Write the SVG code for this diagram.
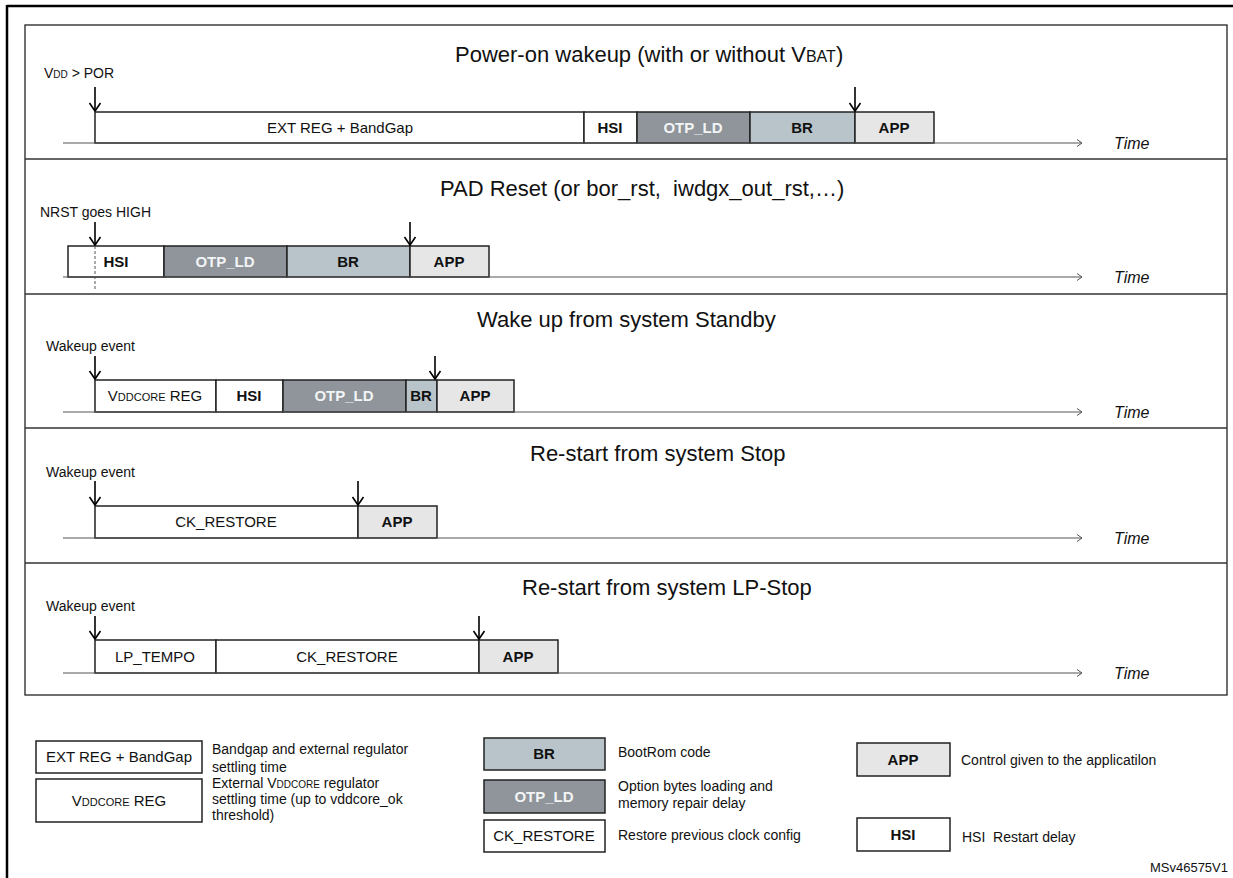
<svg xmlns="http://www.w3.org/2000/svg" width="1233" height="878" viewBox="0 0 1233 878">
<style>
text{font-family:"Liberation Sans",Arial,sans-serif;fill:#111}
.title{font-size:22px}
.lbl{font-size:14px}
.bt{font-size:15px;text-anchor:middle}
.bb{font-size:15px;font-weight:bold;text-anchor:middle}
.bw{font-size:15px;font-weight:bold;text-anchor:middle;fill:#f2f4f5}
.time{font-size:16px;font-style:italic}
.leg{font-size:14px}
.box{stroke:#222;stroke-width:1.5}
.w{fill:#fff}
.otp{fill:#8f959a}
.br{fill:#b9c4ca}
.app{fill:#e6e6e6}
.axis{stroke:#555;stroke-width:1;fill:none}
.ev{stroke:#000;stroke-width:1.6;fill:none}
.sep{stroke:#333;stroke-width:1.5}
</style>
<defs>
<marker id="ah" viewBox="-10 -7 12 14" refX="0" refY="0" markerWidth="12" markerHeight="14" markerUnits="userSpaceOnUse" orient="auto">
<path d="M-8,-5.5 L0,0 L-8,5.5" fill="none" stroke="#000" stroke-width="1.6"/>
</marker>
<marker id="ax" viewBox="-7 -5 9 10" refX="0" refY="0" markerWidth="9" markerHeight="10" markerUnits="userSpaceOnUse" orient="auto">
<path d="M-5,-3.5 L0,0 L-5,3.5" fill="none" stroke="#555" stroke-width="1"/>
</marker>
</defs>
<rect width="1233" height="878" fill="#fff"/>
<g id="frame">
<line x1="7" y1="6" x2="1233" y2="6" stroke="#000" stroke-width="2.5"/>
<line x1="7" y1="5" x2="7" y2="878" stroke="#000" stroke-width="2.5"/>
<rect x="25" y="25" width="1202" height="670" fill="none" stroke="#222" stroke-width="1.3"/>
<line class="sep" x1="25" y1="159" x2="1227" y2="159"/>
<line class="sep" x1="25" y1="294" x2="1227" y2="294"/>
<line class="sep" x1="25" y1="428" x2="1227" y2="428"/>
<line class="sep" x1="25" y1="563" x2="1227" y2="563"/>
</g>
<g id="row1">
<text class="title" x="455" y="62">Power-on wakeup (with or without V<tspan font-size="16">BAT</tspan>)</text>
<text class="lbl" x="44" y="78">V<tspan font-size="10">DD</tspan> &gt; POR</text>
<rect class="box w" x="95" y="112" width="489" height="31"/>
<rect class="box w" x="584" y="112" width="53" height="31"/>
<rect class="box otp" x="637" y="112" width="113" height="31"/>
<rect class="box br" x="750" y="112" width="105" height="31"/>
<rect class="box app" x="855" y="112" width="79" height="31"/>
<text class="bt" x="340" y="133">EXT REG + BandGap</text>
<text class="bb" x="610" y="133">HSI</text>
<text class="bw" x="693" y="133">OTP_LD</text>
<text class="bb" x="802" y="133">BR</text>
<text class="bb" x="894" y="133">APP</text>
<text class="time" x="1114" y="149">Time</text>
</g>
<g id="row2">
<text class="title" x="440" y="196">PAD Reset (or bor_rst,&#160; iwdgx_out_rst,…)</text>
<text class="lbl" x="40" y="217">NRST goes HIGH</text>
<rect class="box w" x="68" y="246" width="96" height="31"/>
<rect class="box otp" x="164" y="246" width="123" height="31"/>
<rect class="box br" x="287" y="246" width="123" height="31"/>
<rect class="box app" x="410" y="246" width="79" height="31"/>
<line x1="95" y1="246" x2="95" y2="290" stroke="#555" stroke-width="1" stroke-dasharray="3,2"/>
<text class="bb" x="116" y="267">HSI</text>
<text class="bw" x="225" y="267">OTP_LD</text>
<text class="bb" x="348" y="267">BR</text>
<text class="bb" x="449" y="267">APP</text>
<text class="time" x="1114" y="283">Time</text>
</g>
<g id="row3">
<text class="title" x="477" y="327">Wake up from system Standby</text>
<text class="lbl" x="46" y="351">Wakeup event</text>
<rect class="box w" x="95" y="380" width="121" height="32"/>
<rect class="box w" x="216" y="380" width="67" height="32"/>
<rect class="box otp" x="283" y="380" width="123" height="32"/>
<rect class="box br" x="406" y="380" width="31" height="32"/>
<rect class="box app" x="437" y="380" width="77" height="32"/>
<text class="bt" x="155" y="401">V<tspan font-size="11">DDCORE</tspan> REG</text>
<text class="bb" x="249" y="401">HSI</text>
<text class="bw" x="344" y="401">OTP_LD</text>
<text class="bb" x="421" y="401">BR</text>
<text class="bb" x="475" y="401">APP</text>
<text class="time" x="1114" y="418">Time</text>
</g>
<g id="row4">
<text class="title" x="530" y="461">Re-start from system Stop</text>
<text class="lbl" x="46" y="477">Wakeup event</text>
<rect class="box w" x="95" y="506" width="263" height="32"/>
<rect class="box app" x="358" y="506" width="79" height="32"/>
<text class="bt" x="226" y="527">CK_RESTORE</text>
<text class="bb" x="397" y="527">APP</text>
<text class="time" x="1114" y="544">Time</text>
</g>
<g id="row5">
<text class="title" x="522" y="595">Re-start from system LP-Stop</text>
<text class="lbl" x="46" y="611">Wakeup event</text>
<rect class="box w" x="95" y="640" width="121" height="33"/>
<rect class="box w" x="216" y="640" width="263" height="33"/>
<rect class="box app" x="479" y="640" width="79" height="33"/>
<text class="bt" x="155" y="662">LP_TEMPO</text>
<text class="bt" x="347" y="662">CK_RESTORE</text>
<text class="bb" x="518" y="662">APP</text>
<text class="time" x="1114" y="679">Time</text>
</g>
<g id="connectors">
<line class="axis" x1="63" y1="143" x2="1082" y2="143" marker-end="url(#ax)"/>
<line class="axis" x1="63" y1="277" x2="1082" y2="277" marker-end="url(#ax)"/>
<line class="axis" x1="63" y1="412" x2="1082" y2="412" marker-end="url(#ax)"/>
<line class="axis" x1="63" y1="538" x2="1082" y2="538" marker-end="url(#ax)"/>
<line class="axis" x1="63" y1="673" x2="1082" y2="673" marker-end="url(#ax)"/>
<line class="ev" x1="95" y1="87" x2="95" y2="111" marker-end="url(#ah)"/>
<line class="ev" x1="855" y1="87" x2="855" y2="111" marker-end="url(#ah)"/>
<line class="ev" x1="95" y1="222" x2="95" y2="245" marker-end="url(#ah)"/>
<line class="ev" x1="410" y1="222" x2="410" y2="245" marker-end="url(#ah)"/>
<line class="ev" x1="95" y1="356" x2="95" y2="379" marker-end="url(#ah)"/>
<line class="ev" x1="435" y1="356" x2="435" y2="379" marker-end="url(#ah)"/>
<line class="ev" x1="95" y1="481" x2="95" y2="505" marker-end="url(#ah)"/>
<line class="ev" x1="358" y1="481" x2="358" y2="505" marker-end="url(#ah)"/>
<line class="ev" x1="95" y1="616" x2="95" y2="639" marker-end="url(#ah)"/>
<line class="ev" x1="479" y1="616" x2="479" y2="639" marker-end="url(#ah)"/>
</g>
<g id="legend-ext">
<rect class="box w" x="36" y="741" width="166" height="32"/>
<text class="bt" x="119" y="762">EXT REG + BandGap</text>
<text class="leg" x="212" y="754">Bandgap and external regulator</text>
<text class="leg" x="212" y="772">settling time</text>
</g>
<g id="legend-vddcore">
<rect class="box w" x="36" y="779" width="166" height="43"/>
<text class="bt" x="119" y="806">V<tspan font-size="11">DDCORE</tspan> REG</text>
<text class="leg" x="212" y="788">External V<tspan font-size="10">DDCORE</tspan> regulator</text>
<text class="leg" x="212" y="804">settling time (up to vddcore_ok</text>
<text class="leg" x="212" y="820">threshold)</text>
</g>
<g id="legend-br">
<rect class="box br" x="484" y="738" width="121" height="32"/>
<text class="bb" x="544" y="759">BR</text>
<text class="leg" x="618" y="757">BootRom code</text>
</g>
<g id="legend-otp">
<rect class="box otp" x="484" y="780" width="121" height="33"/>
<text class="bw" x="544" y="802">OTP_LD</text>
<text class="leg" x="618" y="791">Option bytes loading and</text>
<text class="leg" x="618" y="808">memory repair delay</text>
</g>
<g id="legend-ck">
<rect class="box w" x="484" y="820" width="121" height="32"/>
<text class="bt" x="544" y="841">CK_RESTORE</text>
<text class="leg" x="618" y="840">Restore previous clock config</text>
</g>
<g id="legend-app">
<rect class="box app" x="857" y="743" width="93" height="33"/>
<text class="bb" x="903" y="765">APP</text>
<text class="leg" x="961" y="765">Control given to the applicatilon</text>
</g>
<g id="legend-hsi">
<rect class="box w" x="857" y="818" width="93" height="33"/>
<text class="bb" x="903" y="840">HSI</text>
<text class="leg" x="962" y="842">HSI&#160; Restart delay</text>
</g>
<text x="1228" y="872" font-size="13" text-anchor="end">MSv46575V1</text>
</svg>
